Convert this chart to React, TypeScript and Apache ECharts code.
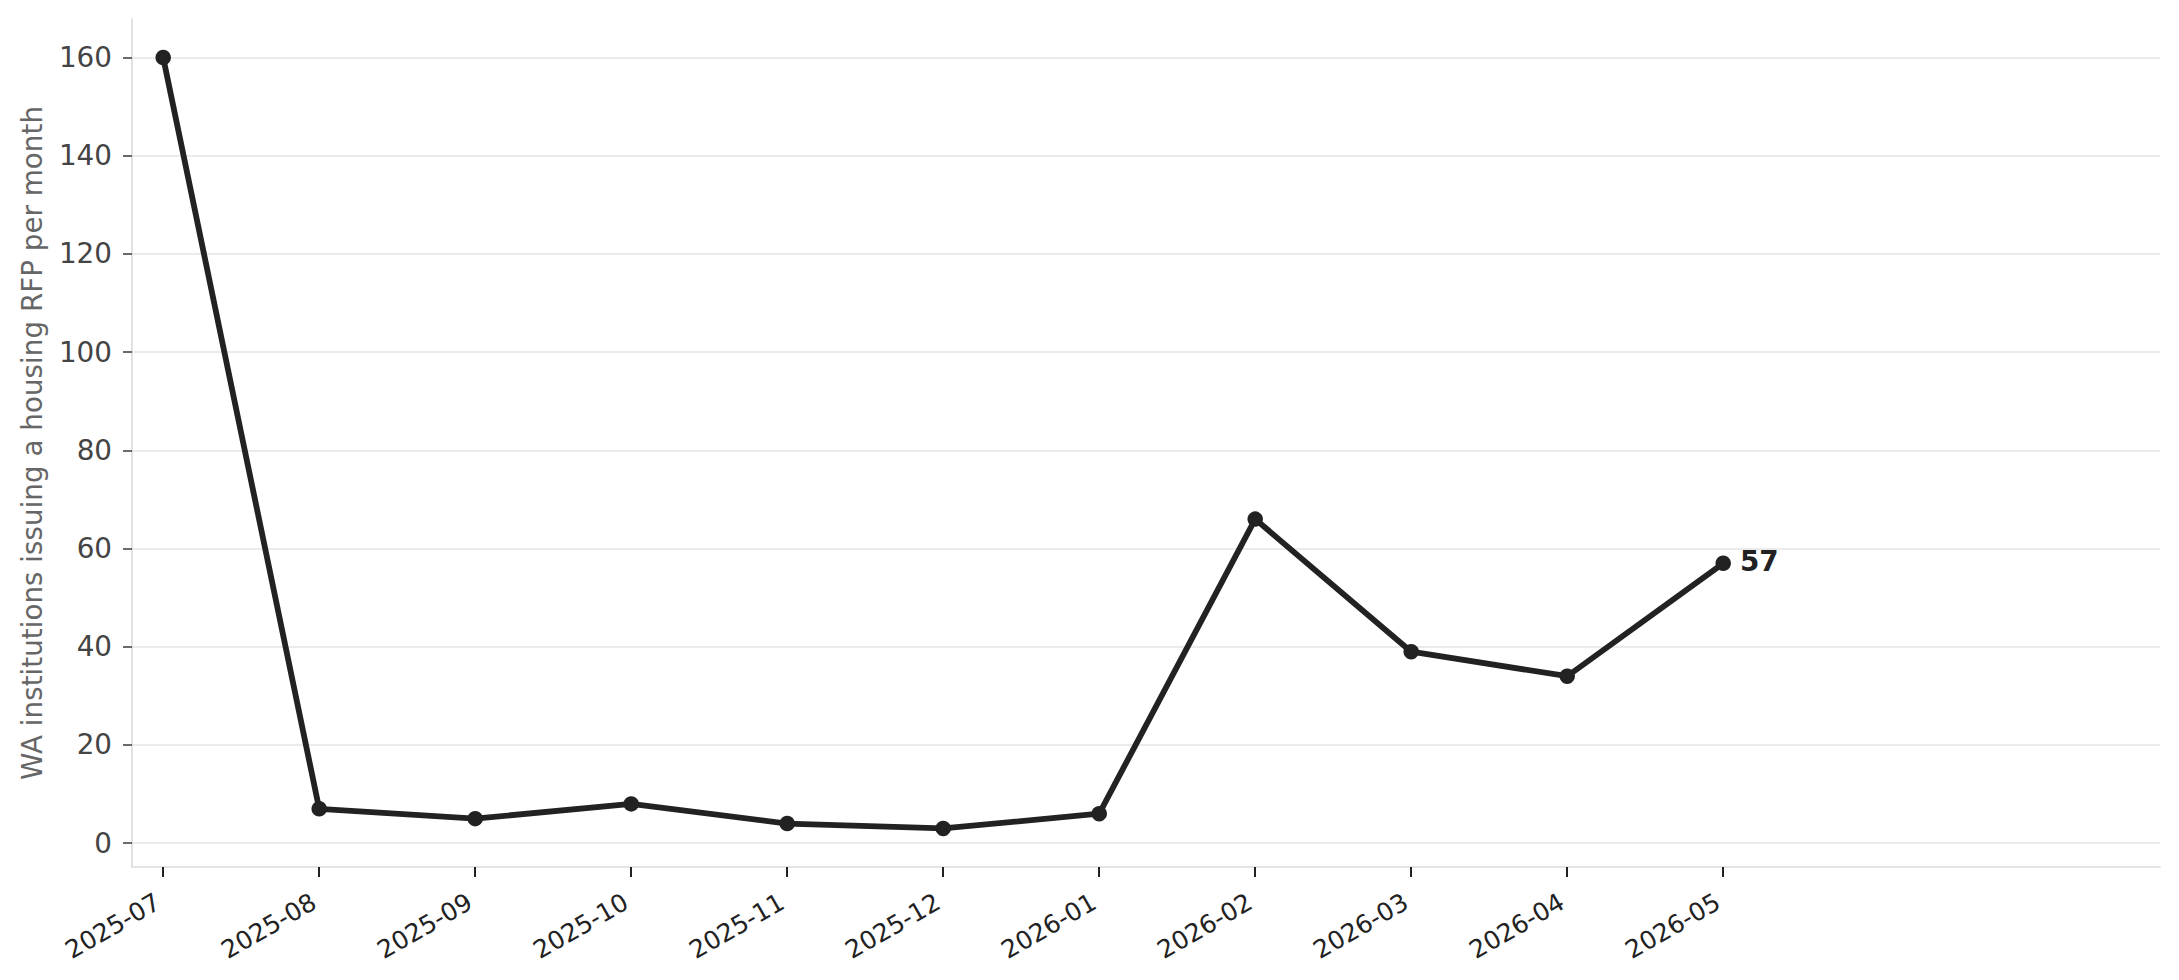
import React, { useEffect, useRef } from "react";
import * as echarts from "echarts";

const months = [
  "2025-07", "2025-08", "2025-09", "2025-10", "2025-11", "2025-12",
  "2026-01", "2026-02", "2026-03", "2026-04", "2026-05",
];
const institutions = [160, 7, 5, 8, 4, 3, 6, 66, 39, 34, 57];
const yTicks = [0, 20, 40, 60, 80, 100, 120, 140, 160];
const yTitle = "WA institutions issuing a housing RFP per month";

const FONT = "'DejaVu Sans', 'Noto Sans', sans-serif";

export default function App() {
  const ref = useRef<HTMLDivElement>(null);

  useEffect(() => {
    document.body.style.margin = "0";
    if (!ref.current) return;
    const chart = echarts.init(ref.current, null, { renderer: "svg" });
    const xIdx = months.map((_, i) => i);
    const lastIdx = institutions.length - 1;
    const data = institutions.map((v, i) =>
      i === lastIdx
        ? {
            value: [i, v],
            label: {
              show: true,
              position: "right",
              distance: 9,
              offset: [0, -2],
              formatter: () => String(v),
              fontFamily: FONT,
              fontSize: 27.8,
              fontWeight: "bold",
              color: "#222222",
            },
          }
        : { value: [i, v] }
    );

    chart.setOption({
      animation: false,
      textStyle: { fontFamily: FONT },
      grid: { left: 132, right: 19, top: 19, bottom: 113, containLabel: false },
      xAxis: {
        type: "value",
        min: -0.2,
        max: 12.8,
        axisLine: { show: true, onZero: false, lineStyle: { color: "#dcdcdc", width: 1.7 } },
        axisTick: {
          show: true,
          customValues: xIdx,
          length: 10,
          lineStyle: { color: "#222222", width: 2 },
        },
        axisLabel: {
          customValues: xIdx,
          formatter: (v: number) => months[Math.round(v)] ?? "",
          rotate: 30,
          margin: 30,
          padding: [0, 6, 0, 0],
          fontFamily: FONT,
          fontSize: 25,
          color: "#222222",
        },
        splitLine: { show: false },
      },
      yAxis: {
        type: "value",
        min: -4.85,
        max: 167.85,
        name: yTitle,
        nameLocation: "middle",
        nameGap: 86,
        nameTextStyle: { fontFamily: FONT, fontSize: 27.8, color: "#666666" },
        axisLine: { show: true, onZero: false, lineStyle: { color: "#dcdcdc", width: 1.7 } },
        axisTick: {
          show: true,
          customValues: yTicks,
          length: 9,
          lineStyle: { color: "#444444", width: 1.6 },
        },
        axisLabel: {
          customValues: yTicks,
          margin: 20,
          fontFamily: FONT,
          fontSize: 27.8,
          color: "#444444",
        },
        splitLine: { show: true, lineStyle: { color: "#ebebeb", width: 2 } },
      },
      series: [
        {
          type: "line",
          data,
          symbol: "circle",
          symbolSize: 15.5,
          showAllSymbol: true,
          lineStyle: { color: "#222222", width: 5.8 },
          itemStyle: { color: "#222222" },
          z: 3,
        },
      ],
    });
    return () => chart.dispose();
  }, []);

  return (
    <div
      ref={ref}
      style={{ position: "absolute", left: 0, top: 0, width: "2179px", height: "980px" }}
    />
  );
}
